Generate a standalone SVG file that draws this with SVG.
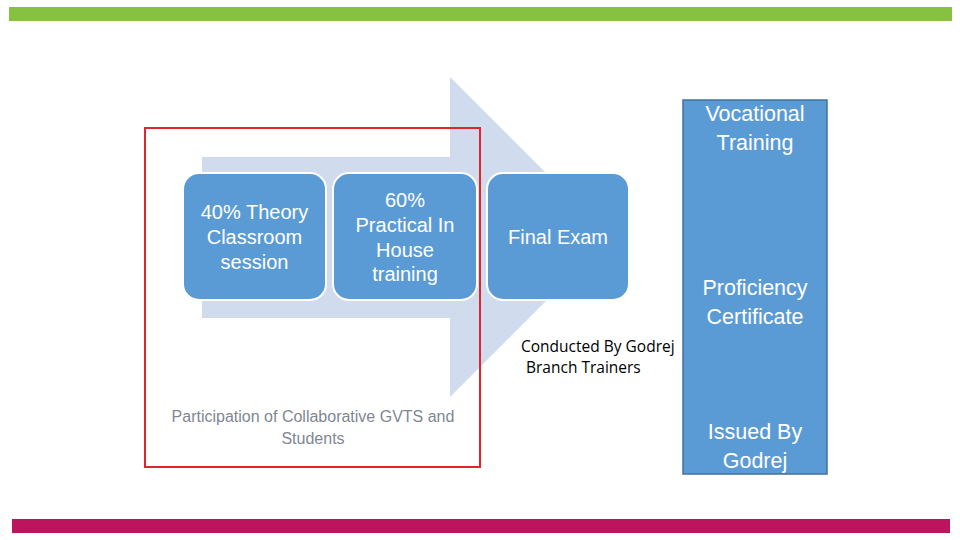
<svg xmlns="http://www.w3.org/2000/svg" width="960" height="540" viewBox="0 0 960 540">
<style>
.box{fill:#5b9bd5;stroke:#ffffff;stroke-width:2}
.wt{font-family:"Liberation Sans","Open Sans",sans-serif;font-size:20px;fill:#ffffff;text-anchor:middle}
.vt{font-size:21.5px}
.bt{font-family:"Open Sans","Liberation Sans",sans-serif;font-size:15.5px;fill:#000000}
.gt{font-family:"Liberation Sans","Open Sans",sans-serif;font-size:16px;fill:#7f8792;text-anchor:middle}
</style>
<rect x="0" y="0" width="960" height="540" fill="#ffffff"/>
<rect x="9" y="7" width="943" height="14" fill="#86c142"/>
<rect x="12" y="519" width="938" height="14" fill="#bc145d"/>
<g id="arrow">
<polygon points="202,157 450,157 450,77 610,237 450,397 450,318 202,318" fill="#d0dbee"/>
</g>
<g id="frame">
<rect x="145" y="128" width="335" height="339" fill="none" stroke="#e0262a" stroke-width="2"/>
</g>
<g id="n1">
<rect class="box" x="183" y="173" width="143" height="127" rx="16"/>
<text class="wt" x="254.5" y="219">40% Theory</text>
<text class="wt" x="254.5" y="244">Classroom</text>
<text class="wt" x="254.5" y="269">session</text>
</g>
<g id="n2">
<rect class="box" x="333" y="173" width="144" height="127" rx="16"/>
<text class="wt" x="405" y="207">60%</text>
<text class="wt" x="405" y="232">Practical In</text>
<text class="wt" x="405" y="257">House</text>
<text class="wt" x="405" y="281">training</text>
</g>
<g id="n3">
<rect class="box" x="487" y="173" width="142" height="127" rx="16"/>
<text class="wt" x="558" y="244">Final Exam</text>
</g>
<g id="n4">
<rect x="683" y="100" width="144" height="374" fill="#5b9bd5" stroke="#41719c" stroke-width="1.5"/>
<text class="wt vt" x="755" y="121">Vocational</text>
<text class="wt vt" x="755" y="150">Training</text>
<text class="wt vt" x="755" y="295">Proficiency</text>
<text class="wt vt" x="755" y="324">Certificate</text>
<text class="wt vt" x="755" y="439">Issued By</text>
<text class="wt vt" x="755" y="468">Godrej</text>
</g>
<g id="labels">
<text class="bt" x="521" y="352">Conducted By Godrej</text>
<text class="bt" x="526" y="373">Branch Trainers</text>
<text class="gt" x="313" y="422">Participation of Collaborative GVTS and</text>
<text class="gt" x="313" y="444">Students</text>
</g>
<g id="connectors"></g>
</svg>
